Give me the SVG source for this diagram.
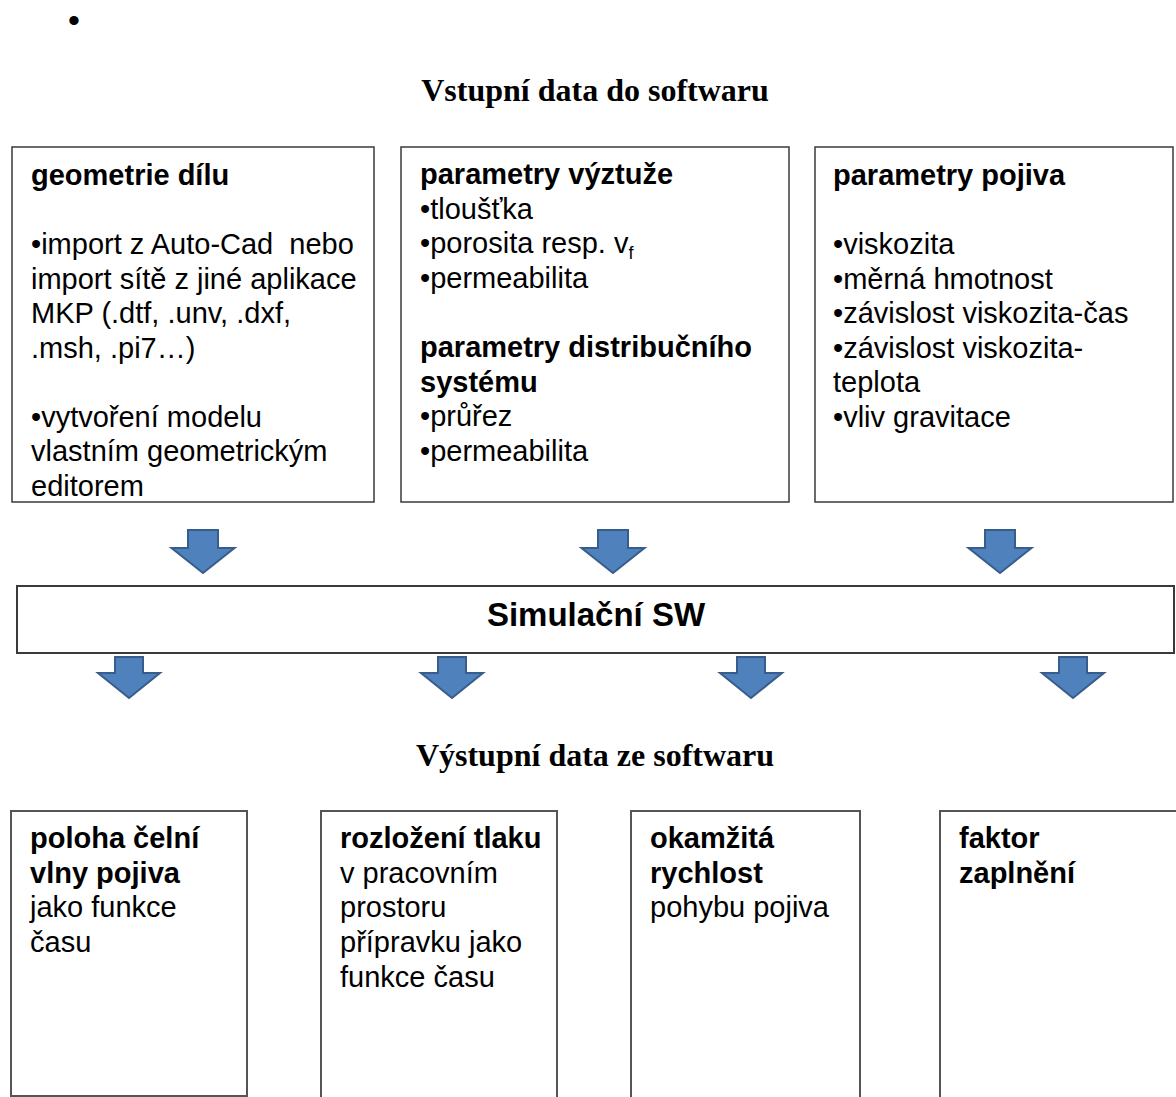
<svg xmlns="http://www.w3.org/2000/svg" width="1176" height="1097" viewBox="0 0 1176 1097">
<defs>
<style>
.box{fill:#fff;stroke:#3a3a3a;stroke-width:1.5}
.obox{fill:#fff;stroke:#555;stroke-width:2}
.t{font-family:"Liberation Sans",Arial,sans-serif;font-size:29px;fill:#000;white-space:pre}
.b{font-weight:bold}
.title{font-family:"Liberation Serif","Times New Roman",serif;font-size:32px;font-weight:bold;fill:#000;text-anchor:middle}
.arrow{fill:#4f81bd;stroke:#385d8a;stroke-width:2;stroke-linejoin:miter}
</style>
</defs>
<rect width="1176" height="1097" fill="#fff"/>
<text x="68" y="32" style="font-family:'Liberation Sans',Arial,sans-serif;font-size:34px">•</text>
<text class="title" x="595" y="101">Vstupní data do softwaru</text>
<text class="title" x="595" y="766">Výstupní data ze softwaru</text>

<g id="geometrie">
<rect class="box" x="12" y="147" width="362" height="355"/>
<text class="t b" x="31" y="185">geometrie dílu</text>
<text class="t" x="31" y="254">•import z Auto-Cad  nebo</text>
<text class="t" x="31" y="288.5">import sítě z jiné aplikace</text>
<text class="t" x="31" y="323">MKP (.dtf, .unv, .dxf,</text>
<text class="t" x="31" y="357.5">.msh, .pi7…)</text>
<text class="t" x="31" y="426.5">•vytvoření modelu</text>
<text class="t" x="31" y="461">vlastním geometrickým</text>
<text class="t" x="31" y="495.5">editorem</text>
</g>

<g id="vyztuz">
<rect class="box" x="401" y="147" width="388" height="355"/>
<text class="t b" x="420" y="184">parametry výztuže</text>
<text class="t" x="420" y="218.5">•tloušťka</text>
<text class="t" x="420" y="253">•porosita resp. v<tspan font-size="18" dy="6">f</tspan></text>
<text class="t" x="420" y="287.5">•permeabilita</text>
<text class="t b" x="420" y="357">parametry distribučního</text>
<text class="t b" x="420" y="391.5">systému</text>
<text class="t" x="420" y="426">•průřez</text>
<text class="t" x="420" y="460.5">•permeabilita</text>
</g>

<g id="pojivo">
<rect class="box" x="815" y="147" width="358" height="355"/>
<text class="t b" x="833" y="185">parametry pojiva</text>
<text class="t" x="833" y="254">•viskozita</text>
<text class="t" x="833" y="288.5">•měrná hmotnost</text>
<text class="t" x="833" y="323">•závislost viskozita-čas</text>
<text class="t" x="833" y="357.5">•závislost viskozita-</text>
<text class="t" x="833" y="392">teplota</text>
<text class="t" x="833" y="426.5">•vliv gravitace</text>
</g>

<g id="simulace">
<rect class="box" x="17" y="586" width="1157" height="67" style="stroke-width:2"/>
<text class="t b" x="596" y="626" text-anchor="middle" style="font-size:33px">Simulační SW</text>
</g>

<g id="connectors">
<path class="arrow" d="M188,530 H218 V548 H234.5 L203,573 L171.5,548 H188 Z"/>
<path class="arrow" d="M598,530 H628 V548 H644.5 L613,573 L581.5,548 H598 Z"/>
<path class="arrow" d="M985,530 H1015 V548 H1031.5 L1000,573 L968.5,548 H985 Z"/>
<path class="arrow" d="M115,657 H143 V673 H160 L129,698 L98,673 H115 Z"/>
<path class="arrow" d="M438,657 H466 V673 H483 L452,698 L421,673 H438 Z"/>
<path class="arrow" d="M737,657 H765 V673 H782 L751,698 L720,673 H737 Z"/>
<path class="arrow" d="M1059,657 H1087 V673 H1104 L1073,698 L1042,673 H1059 Z"/>
</g>

<g id="poloha">
<rect class="obox" x="11" y="811" width="236" height="285"/>
<text class="t b" x="30" y="848">poloha čelní</text>
<text class="t b" x="30" y="883">vlny pojiva</text>
<text class="t" x="30" y="917">jako funkce</text>
<text class="t" x="30" y="952">času</text>
</g>

<g id="tlak">
<rect class="obox" x="321" y="811" width="236" height="290"/>
<text class="t b" x="340" y="848">rozložení tlaku</text>
<text class="t" x="340" y="883">v pracovním</text>
<text class="t" x="340" y="917">prostoru</text>
<text class="t" x="340" y="952">přípravku jako</text>
<text class="t" x="340" y="987">funkce času</text>
</g>

<g id="rychlost">
<rect class="obox" x="631" y="811" width="229" height="290"/>
<text class="t b" x="650" y="848">okamžitá</text>
<text class="t b" x="650" y="883">rychlost</text>
<text class="t" x="650" y="917">pohybu pojiva</text>
</g>

<g id="zaplneni">
<rect class="obox" x="940" y="811" width="240" height="290"/>
<text class="t b" x="959" y="848">faktor</text>
<text class="t b" x="959" y="883">zaplnění</text>
</g>
</svg>
